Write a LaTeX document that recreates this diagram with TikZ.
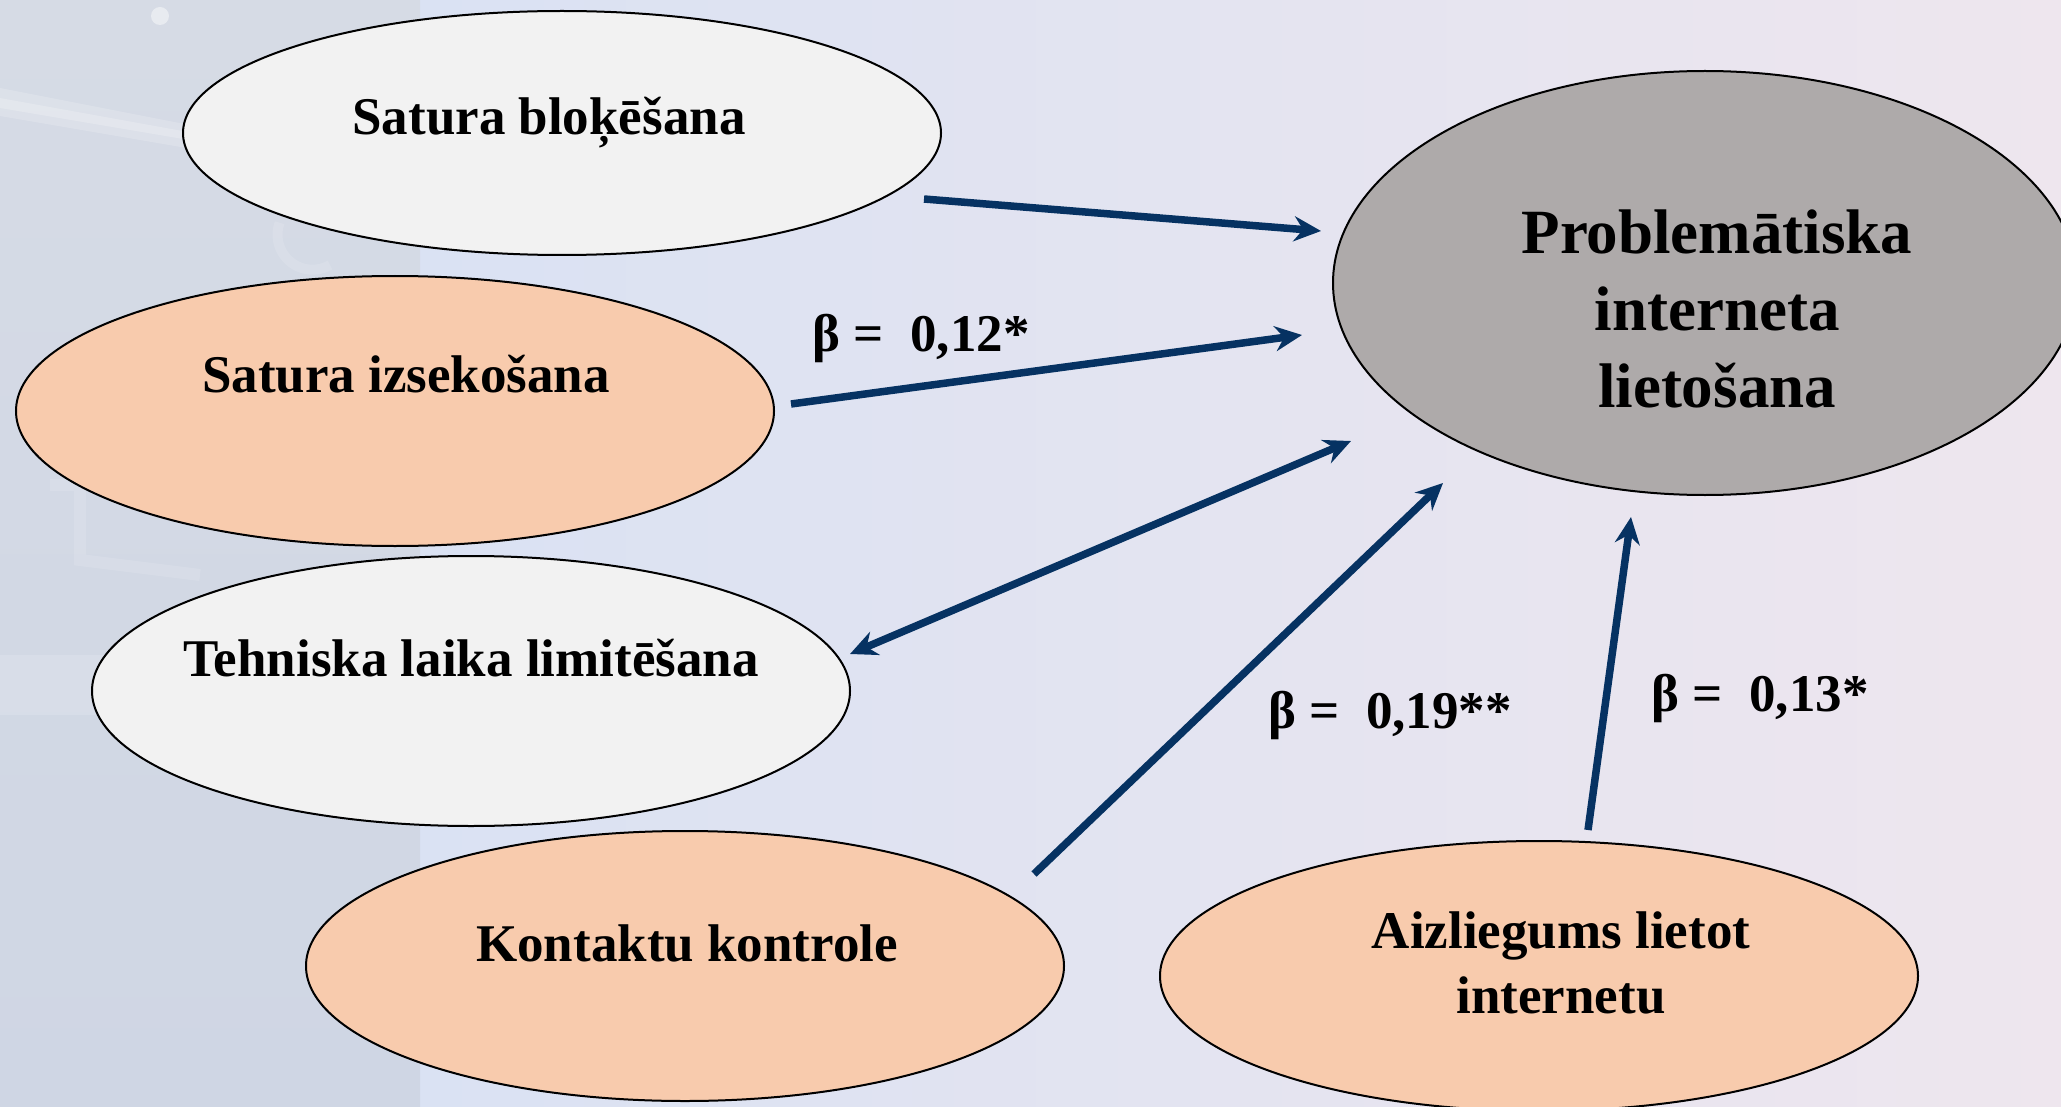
\documentclass[tikz,border=0pt]{standalone}
\usepackage{fontspec}
\setmainfont{Liberation Serif}
\usetikzlibrary{arrows.meta,shapes.geometric}
\definecolor{cLight}{RGB}{242,242,242}
\definecolor{cOrange}{RGB}{248,203,173}
\definecolor{cGrey}{RGB}{174,170,170}
\definecolor{cNavy}{RGB}{6,50,98}
\definecolor{bgA}{RGB}{218,226,243}
\definecolor{bgM}{RGB}{224,229,242}
\definecolor{bgB}{RGB}{238,230,238}
\definecolor{stA}{RGB}{214,219,229}
\definecolor{stM}{RGB}{203,210,224}
\definecolor{stB}{RGB}{207,214,228}
\begin{document}
\begin{tikzpicture}[x=1pt,y=-1pt,
  ell/.style={ellipse, draw=black, line width=2pt, inner sep=0pt},
  lbl/.style={font=\bfseries\fontsize{53}{65}\selectfont, inner sep=0pt, anchor=base},
  arr/.style={draw=cNavy, line width=7.5pt, -{Stealth[length=27pt,width=25pt,inset=9pt]}},
  darr/.style={draw=cNavy, line width=7.5pt, {Stealth[length=27pt,width=25pt,inset=9pt]}-{Stealth[length=27pt,width=25pt,inset=9pt]}}]
\useasboundingbox (0,0) rectangle (2061,1107);
% background
\fill[left color=bgA, middle color=bgM, right color=bgB] (420,0) rectangle (2061,1107);
\fill[top color=stA, middle color=stM, bottom color=stB] (0,0) rectangle (420,1107);
\fill[white, opacity=0.18] (0,88) -- (420,170) -- (420,188) -- (0,116) -- cycle;
\fill[white, opacity=0.2] (0,98) -- (260,145) -- (260,152) -- (0,108) -- cycle;
\fill[white, opacity=0.15] (0,655) rectangle (420,715);
\fill[white, opacity=0.45] (160,16) circle (9);
\draw[white, opacity=0.12, line width=10pt] (330,265) arc (60:200:35);
\draw[white, opacity=0.12, line width=12pt] (50,485) -- (80,485) -- (80,560) -- (200,575);
% nodes
\node[ell, fill=cLight, minimum width=758, minimum height=244] (e1) at (562,133) {};
\node[ell, fill=cOrange, minimum width=758, minimum height=270] (e2) at (395,411) {};
\node[ell, fill=cLight, minimum width=758, minimum height=270] (e3) at (471,691) {};
\node[ell, fill=cOrange, minimum width=758, minimum height=270] (e4) at (685,966) {};
\node[ell, fill=cOrange, minimum width=758, minimum height=270] (e5) at (1539,976) {};
\node[ell, fill=cGrey, minimum width=744, minimum height=424] (e6) at (1705,283) {};
% texts
\node[lbl] (t1) at (549,135) {Satura bloķēšana};
\node[lbl] (t2) at (406,392) {Satura izsekošana};
\node[lbl] (t3) at (471,676) {Tehniska laika limitēšana};
\node[lbl] (t4) at (687,961) {Kontaktu kontrole};
\node[lbl, anchor=center, align=center] (t5) at (1561,963) {Aizliegums lietot\\internetu};
\node[inner sep=0pt, align=center, font=\bfseries\fontsize{63}{77}\selectfont] (t6) at (1717,309) {Problemātiska\\interneta\\lietošana};
\node[lbl] (b1) at (921,351) {β = ~0,12*};
\node[lbl] (b2) at (1390,728) {β = ~0,19**};
\node[lbl] (b3) at (1760,711) {β = ~0,13*};
% connector end points
\coordinate (a1s) at (924,199);
\coordinate (a1e) at (1321,231);
\coordinate (a2s) at (791,404);
\coordinate (a2e) at (1302,335);
\coordinate (a3s) at (1351,441);
\coordinate (a3e) at (850,654);
\coordinate (a4s) at (1034,874);
\coordinate (a4e) at (1443,483);
\coordinate (a5s) at (1588,830);
\coordinate (a5e) at (1631,517);
\draw[arr] (a1s) -- (a1e);
\draw[arr] (a2s) -- (a2e);
\draw[darr] (a3s) -- (a3e);
\draw[arr] (a4s) -- (a4e);
\draw[arr] (a5s) -- (a5e);
\end{tikzpicture}
\end{document}
